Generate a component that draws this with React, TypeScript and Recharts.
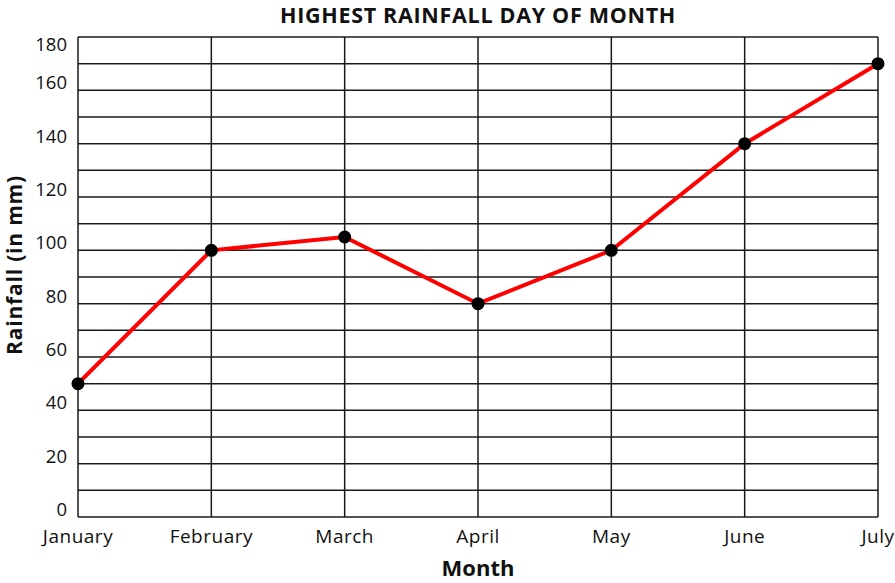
import React from 'react';
import { LineChart, Line, XAxis, YAxis, CartesianGrid } from 'recharts';

const months = ['January', 'February', 'March', 'April', 'May', 'June', 'July'];
const rainfall = [50, 100, 105, 80, 100, 140, 170];
const yTicks = [0, 10, 20, 30, 40, 50, 60, 70, 80, 90, 100, 110, 120, 130, 140, 150, 160, 170, 180];

const data = months.map((month, i) => ({ month, rainfall: rainfall[i] }));

const FONT = '"Open Sans", sans-serif';

const YTick = ({ x, y, payload }: any) => {
  if (payload.value % 20 !== 0) return null;
  const dy = payload.value === 180 ? 14 : -1;
  return (
    <text x={x} y={y + dy} textAnchor="end" fill="#111" fontSize={18.5} fontFamily={FONT}>
      {payload.value}
    </text>
  );
};

const XTick = ({ x, y, payload }: any) => (
  <text x={x} y={y + 18} textAnchor="middle" fill="#111" fontSize={19}
    letterSpacing={0.5} fontFamily={FONT}>
    {payload.value}
  </text>
);

const YLabel = ({ viewBox }: any) => {
  const cy = viewBox.y + viewBox.height / 2 - 12;
  return (
    <text x={22} y={cy} transform={`rotate(-90 22 ${cy})`} textAnchor="middle"
      fill="#111" fontSize={21} fontWeight="bold" letterSpacing={0.8} fontFamily={FONT}>
      Rainfall (in mm)
    </text>
  );
};

const XLabel = ({ viewBox }: any) => (
  <text x={viewBox.x + viewBox.width / 2} y={576} textAnchor="middle"
    fill="#111" fontSize={22} fontWeight="bold" fontFamily={FONT}>
    Month
  </text>
);

export default function App() {
  return (
    <div style={{ position: 'relative', width: 895, height: 583 }}>
      <style>{'body{margin:0}'}</style>
      <div style={{
        position: 'absolute', left: 78, width: 800, top: 0, textAlign: 'center',
        fontFamily: FONT, fontWeight: 'bold', fontSize: 21.5, letterSpacing: 0.7,
        color: '#111', lineHeight: '30px',
      }}>
        HIGHEST RAINFALL DAY OF MONTH
      </div>
      <LineChart width={895} height={583} data={data}
        margin={{ top: 37, right: 17, bottom: 0, left: 0 }}>
        <CartesianGrid stroke="#1a1a1a" strokeWidth={1.5} />
        <XAxis dataKey="month" scale="point" padding={{ left: 0, right: 0 }} height={66}
          axisLine={false} tickLine={false} tick={<XTick />} interval={0} label={<XLabel />} />
        <YAxis domain={[0, 180]} ticks={yTicks} width={78} axisLine={false} tickLine={false}
          tickMargin={5} tick={<YTick />} interval={0} label={<YLabel />} />
        <Line type="linear" dataKey="rainfall" stroke="#ff0000" strokeWidth={4}
          dot={{ r: 6.5, fill: '#000', stroke: 'none' }} isAnimationActive={false} />
      </LineChart>
    </div>
  );
}
